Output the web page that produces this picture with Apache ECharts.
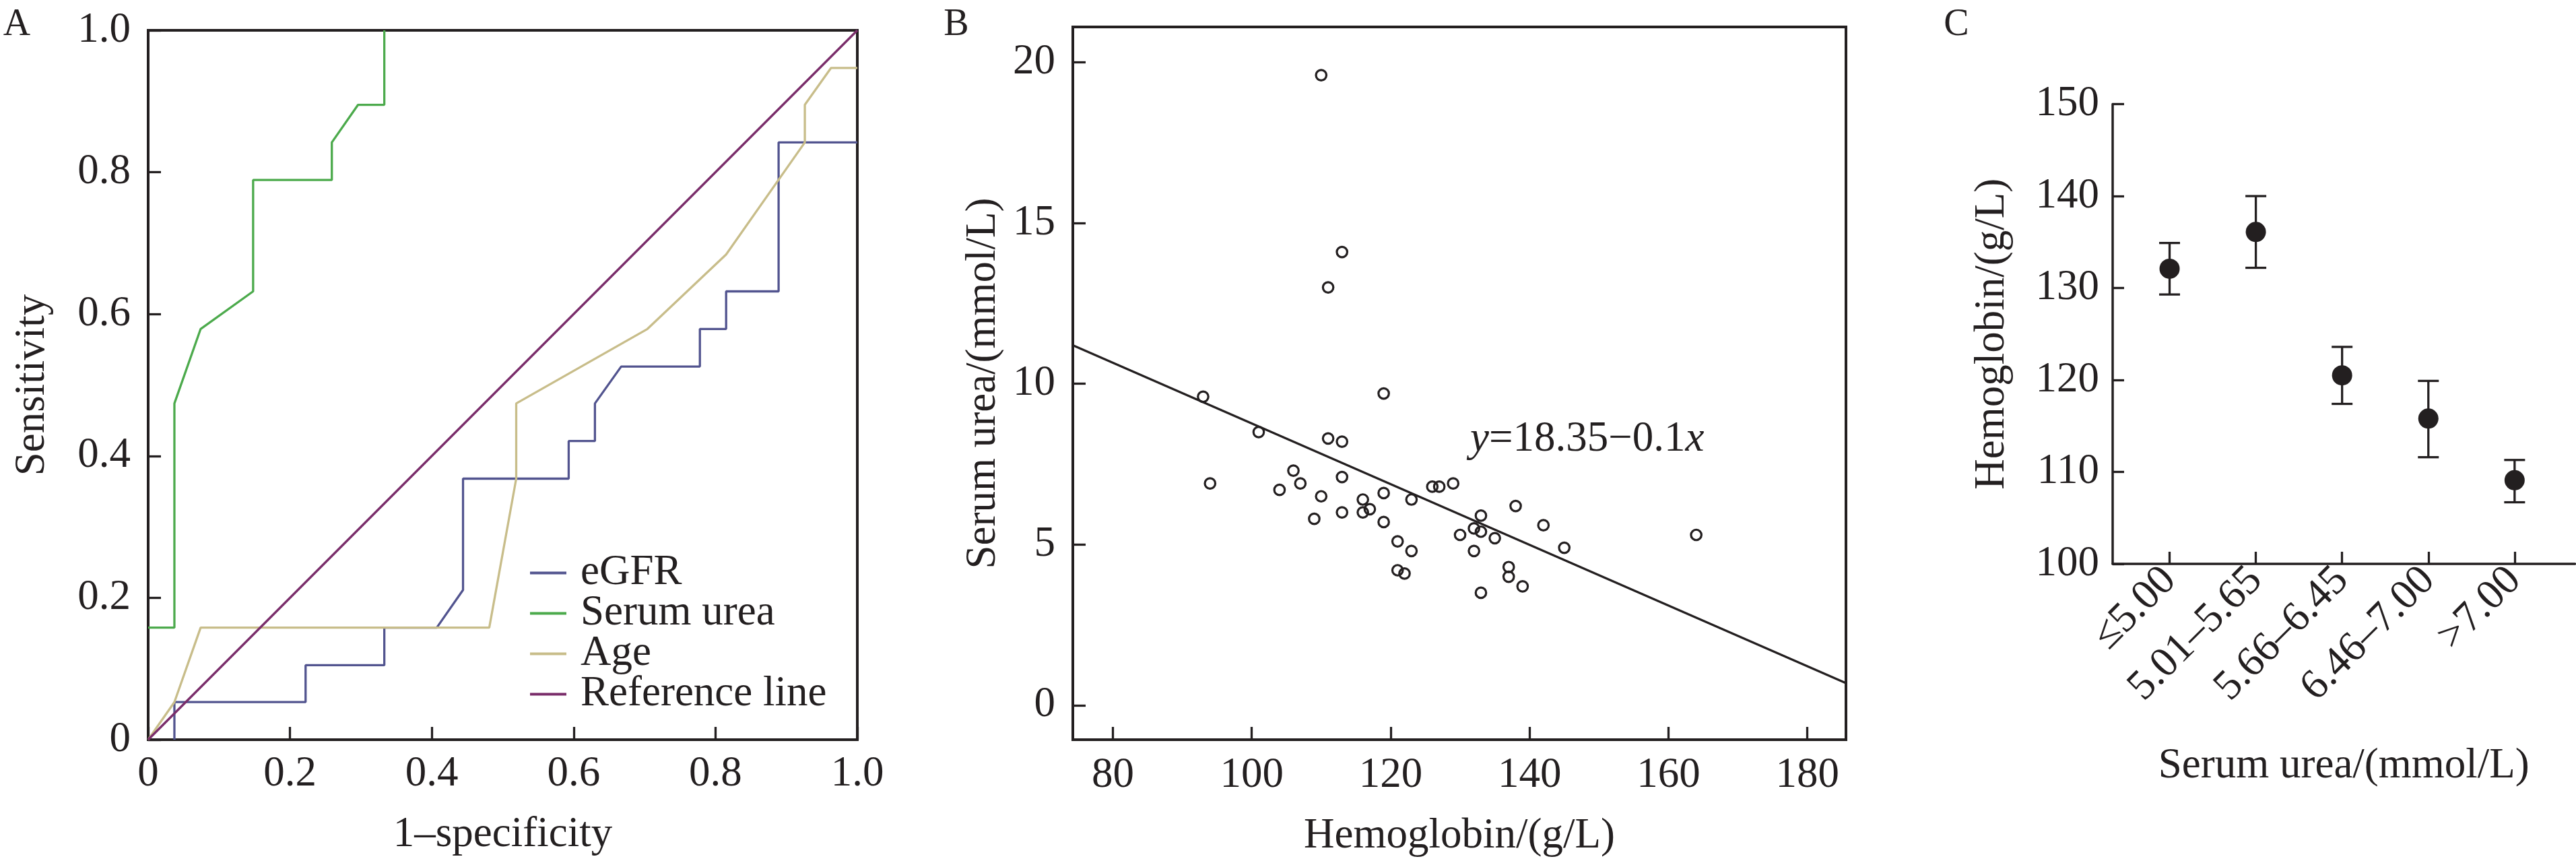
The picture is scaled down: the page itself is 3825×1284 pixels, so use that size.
<!DOCTYPE html>
<html>
<head>
<meta charset="utf-8">
<script src="https://cdn.jsdelivr.net/npm/echarts@6.0.0/dist/echarts.min.js"></script>
<style>
  html, body { margin: 0; padding: 0; background: #fff; }
  #main { width: 3825px; height: 1284px; }
</style>
</head>
<body>
<div id="main"></div>
<script>
// A: ROC curves, x = 1-specificity, y = sensitivity
var egfrX = [0.037, 0.037, 0.222, 0.222, 0.333, 0.333, 0.407, 0.444, 0.444, 0.593, 0.593, 0.630, 0.630, 0.667, 0.778, 0.778, 0.815, 0.815, 0.889, 0.889, 1.0];
var egfrY = [0, 0.053, 0.053, 0.105, 0.105, 0.158, 0.158, 0.211, 0.368, 0.368, 0.421, 0.421, 0.474, 0.526, 0.526, 0.579, 0.579, 0.632, 0.632, 0.842, 0.842];
var ureaX = [0, 0.037, 0.037, 0.074, 0.148, 0.148, 0.259, 0.259, 0.296, 0.333, 0.333];
var ureaY = [0.158, 0.158, 0.474, 0.579, 0.632, 0.789, 0.789, 0.842, 0.895, 0.895, 1.0];
var ageX = [0, 0.037, 0.074, 0.481, 0.519, 0.519, 0.704, 0.815, 0.926, 0.926, 0.963, 1.0];
var ageY = [0, 0.053, 0.158, 0.158, 0.368, 0.474, 0.579, 0.684, 0.842, 0.895, 0.947, 0.947];
var refX = [0, 1];
var refY = [0, 1];
var rocTicks = [0, 0.2, 0.4, 0.6, 0.8, 1.0];

// B: hemoglobin vs serum urea
var hgb  = [110, 113, 111, 119, 93, 101, 111, 113, 94, 106, 107, 104, 113, 110, 109, 113, 116, 116, 117, 119, 119, 123, 121, 123, 121, 122, 126, 127, 129, 130, 133, 132, 133, 132, 135, 133, 137, 137, 139, 138, 142, 145, 164];
var urea = [19.6, 14.1, 13.0, 9.7, 9.6, 8.5, 8.3, 8.2, 6.9, 7.3, 6.9, 6.7, 7.1, 6.5, 5.8, 6.0, 6.4, 6.0, 6.1, 6.6, 5.7, 6.4, 5.1, 4.8, 4.2, 4.1, 6.8, 6.8, 6.9, 5.3, 5.9, 5.5, 5.4, 4.8, 5.2, 3.5, 4.3, 4.0, 3.7, 6.2, 5.6, 4.9, 5.3];
var fitX = [74.24, 185.56];
var fitY = [11.2, 0.69];
var hgbTicks = [80, 100, 120, 140, 160, 180];
var ureaTicks = [0, 5, 10, 15, 20];

// C: hemoglobin by serum urea group
var ureaGroups = ['≤5.00', '5.01–5.65', '5.66–6.45', '6.46–7.00', '>7.00'];
var groupPos = [1, 2, 3, 4, 5];
var hgbMean  = [132.1, 136.1, 120.5, 115.8, 109.1];
var hgbUpper = [134.9, 140.0, 123.6, 119.9, 111.3];
var hgbLower = [129.3, 132.2, 117.4, 111.6, 106.7];

var FONT = "'Liberation Serif', 'Times New Roman', serif";
var INK = '#231f20';
var FS = 63;

function pair(xs, ys) {
  var out = [];
  for (var i = 0; i < xs.length; i++) out.push([xs[i], ys[i]]);
  return out;
}

var tickStyle = { color: INK, width: 3.3 };
var labelBase = { fontFamily: FONT, fontSize: FS, color: INK };
var nameBase = { fontFamily: FONT, fontSize: FS, color: INK };

var chart = echarts.init(document.getElementById('main'), null, { renderer: 'canvas' });

var option = {
  backgroundColor: '#fff',
  animation: false,
  textStyle: { fontFamily: FONT, color: INK },
  graphic: [
    { type: 'text', x: 25, y: 37, style: { text: 'A', fontFamily: FONT, fontSize: 56, fill: INK, align: 'center', verticalAlign: 'middle' } },
    { type: 'text', x: 1420, y: 37, style: { text: 'B', fontFamily: FONT, fontSize: 56, fill: INK, align: 'center', verticalAlign: 'middle' } },
    { type: 'text', x: 2905, y: 37, style: { text: 'C', fontFamily: FONT, fontSize: 56, fill: INK, align: 'center', verticalAlign: 'middle' } },
    { type: 'text', x: 2183, y: 652, style: {
        text: '{i|y}=18.35−0.1{i|x}', fontFamily: FONT, fontSize: FS, fill: INK,
        align: 'left', verticalAlign: 'middle',
        rich: { i: { fontStyle: 'italic', fontFamily: FONT, fontSize: FS, fill: INK } }
    } }
  ],
  legend: {
    orient: 'vertical',
    left: 782,
    top: 814,
    icon: 'rect',
    itemWidth: 54,
    itemHeight: 4,
    itemGap: -3,
    data: ['eGFR', 'Serum urea', 'Age', 'Reference line'],
    textStyle: { fontFamily: FONT, fontSize: FS, color: INK, padding: [0, 0, 0, 16] }
  },
  grid: [
    { left: 220, top: 45, width: 1053, height: 1053, show: true, borderColor: INK, borderWidth: 4, outerBoundsMode: 'none' },
    { left: 1593, top: 40, width: 1148, height: 1058, show: true, borderColor: INK, borderWidth: 4, outerBoundsMode: 'none' },
    { left: 3137, top: 154.6, width: 686.5, height: 682.4, outerBoundsMode: 'none' }
  ],
  xAxis: [
    {
      gridIndex: 0, type: 'value', min: 0, max: 1,
      axisLine: { show: false, onZero: false },
      axisTick: { inside: true, length: 19, lineStyle: tickStyle, customValues: rocTicks },
      axisLabel: Object.assign({ margin: 20, customValues: rocTicks, formatter: function (v) { return v === 0 ? '0' : v.toFixed(1); } }, labelBase),
      splitLine: { show: false },
      name: '1–specificity', nameLocation: 'middle', nameGap: 110, nameTextStyle: nameBase
    },
    {
      gridIndex: 1, type: 'value', min: 74.24, max: 185.56,
      axisLine: { show: false, onZero: false },
      axisTick: { inside: true, length: 19, lineStyle: tickStyle, customValues: hgbTicks },
      axisLabel: Object.assign({ margin: 22, customValues: hgbTicks }, labelBase),
      splitLine: { show: false },
      name: 'Hemoglobin/(g/L)', nameLocation: 'middle', nameGap: 112, nameTextStyle: nameBase
    },
    {
      gridIndex: 2, type: 'value', min: 0.34, max: 5.7,
      axisLine: { show: true, onZero: false, lineStyle: { color: INK, width: 3.5 } },
      axisTick: { inside: true, length: 18, lineStyle: tickStyle, customValues: groupPos },
      axisLabel: Object.assign({ margin: 15, rotate: 45, customValues: groupPos, formatter: function (v) { return ureaGroups[Math.round(v) - 1]; } }, labelBase),
      splitLine: { show: false },
      name: 'Serum urea/(mmol/L)', nameLocation: 'middle', nameGap: 269, nameTextStyle: nameBase
    }
  ],
  yAxis: [
    {
      gridIndex: 0, type: 'value', min: 0, max: 1,
      axisLine: { show: false, onZero: false },
      axisTick: { inside: true, length: 19, lineStyle: tickStyle, customValues: rocTicks },
      axisLabel: Object.assign({ margin: 26, customValues: rocTicks, formatter: function (v) { return v === 0 ? '0' : v.toFixed(1); } }, labelBase),
      splitLine: { show: false },
      name: 'Sensitivity', nameLocation: 'middle', nameGap: 140, nameTextStyle: nameBase
    },
    {
      gridIndex: 1, type: 'value', min: -1.07, max: 21.1,
      axisLine: { show: false, onZero: false },
      axisTick: { inside: true, length: 19, lineStyle: tickStyle, customValues: ureaTicks },
      axisLabel: Object.assign({ margin: 26, customValues: ureaTicks }, labelBase),
      splitLine: { show: false },
      name: 'Serum urea/(mmol/L)', nameLocation: 'middle', nameGap: 101, nameTextStyle: nameBase
    },
    {
      gridIndex: 2, type: 'value', min: 100, max: 150, interval: 10,
      axisLine: { show: true, onZero: false, lineStyle: { color: INK, width: 3.5 } },
      axisTick: { inside: true, length: 17, lineStyle: tickStyle },
      axisLabel: Object.assign({ margin: 20 }, labelBase),
      splitLine: { show: false },
      name: 'Hemoglobin/(g/L)', nameLocation: 'middle', nameGap: 147, nameTextStyle: nameBase
    }
  ],
  series: [
    {
      name: 'eGFR', type: 'line', xAxisIndex: 0, yAxisIndex: 0,
      data: pair(egfrX, egfrY), symbol: 'none',
      lineStyle: { color: '#52548f', width: 3.3 }, itemStyle: { color: '#52548f' }
    },
    {
      name: 'Serum urea', type: 'line', xAxisIndex: 0, yAxisIndex: 0,
      data: pair(ureaX, ureaY), symbol: 'none',
      lineStyle: { color: '#4caa4c', width: 3.3 }, itemStyle: { color: '#4caa4c' }
    },
    {
      name: 'Age', type: 'line', xAxisIndex: 0, yAxisIndex: 0,
      data: pair(ageX, ageY), symbol: 'none',
      lineStyle: { color: '#c8bd8a', width: 3.3 }, itemStyle: { color: '#c8bd8a' }
    },
    {
      name: 'Reference line', type: 'line', xAxisIndex: 0, yAxisIndex: 0,
      data: pair(refX, refY), symbol: 'none',
      lineStyle: { color: '#7a2d6a', width: 3.3 }, itemStyle: { color: '#7a2d6a' }
    },
    {
      type: 'line', xAxisIndex: 1, yAxisIndex: 1,
      data: pair(fitX, fitY), symbol: 'none',
      lineStyle: { color: INK, width: 3.3 }
    },
    {
      type: 'scatter', xAxisIndex: 1, yAxisIndex: 1,
      data: pair(hgb, urea), symbol: 'circle', symbolSize: 15.5,
      itemStyle: { color: 'rgba(255,255,255,0)', borderColor: INK, borderWidth: 3.2, opacity: 1 }
    },
    {
      type: 'custom', xAxisIndex: 2, yAxisIndex: 2,
      data: groupPos.map(function (g, i) { return [g, hgbLower[i], hgbUpper[i]]; }),
      renderItem: function (params, api) {
        var x = api.value(0);
        var lo = api.coord([x, api.value(1)]);
        var hi = api.coord([x, api.value(2)]);
        var w = 15.5;
        var st = { stroke: INK, lineWidth: 3.3 };
        return {
          type: 'group',
          children: [
            { type: 'line', shape: { x1: lo[0], y1: lo[1], x2: hi[0], y2: hi[1] }, style: st },
            { type: 'line', shape: { x1: lo[0] - w, y1: lo[1], x2: lo[0] + w, y2: lo[1] }, style: st },
            { type: 'line', shape: { x1: hi[0] - w, y1: hi[1], x2: hi[0] + w, y2: hi[1] }, style: st }
          ]
        };
      }
    },
    {
      type: 'scatter', xAxisIndex: 2, yAxisIndex: 2,
      data: pair(groupPos, hgbMean), symbol: 'circle', symbolSize: 30,
      itemStyle: { color: INK, opacity: 1 }
    }
  ]
};

chart.setOption(option);
</script>
</body>
</html>
